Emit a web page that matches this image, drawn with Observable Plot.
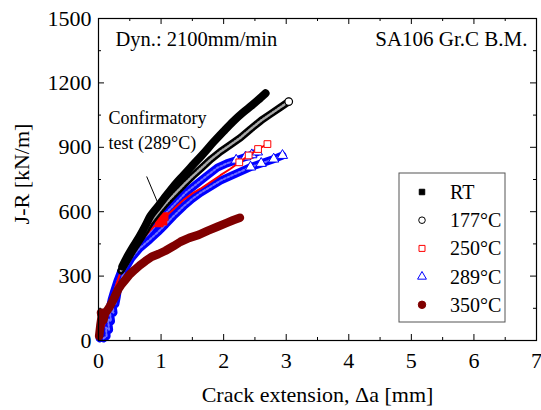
<!DOCTYPE html>
<html><head><meta charset="utf-8">
<script src="https://cdn.jsdelivr.net/npm/d3@7"></script>
<script src="https://cdn.jsdelivr.net/npm/@observablehq/plot@0.6"></script>
<style>body{margin:0;background:#fff} svg{display:block}</style>
</head><body><div id="chart"></div>
<script>
// ---- data (Δa [mm], J-R [kN/m]) ----
const rtPts = [[0.38,345],[0.45,385],[0.55,435],[0.65,482],[0.75,535],[0.83,580],[0.95,625],[1.05,663],[1.15,700],[1.25,735],[1.36,770],[1.5,815],[1.65,862],[1.84,925],[2.0,975],[2.15,1020],[2.3,1060],[2.45,1095],[2.55,1120],[2.67,1152]];
const c177Pts = [[0.36,325],[0.45,370],[0.55,420],[0.65,465],[0.75,510],[0.83,550],[0.95,595],[1.05,630],[1.15,662],[1.25,692],[1.36,725],[1.5,765],[1.65,805],[1.8,845],[1.95,880],[2.1,910],[2.27,945],[2.43,985],[2.6,1025],[2.75,1055],[2.9,1085],[3.04,1113]];
const c250Pts = [[0.05,40],[0.15,120],[0.25,230],[0.33,300],[0.42,355],[0.5,395],[0.6,435],[0.7,470],[0.8,505],[0.9,535],[0.97,545],[1.0,575],[1.03,555],[1.05,580],[1.02,565],[1.1,585],[1.25,625],[1.36,655],[1.5,685],[1.63,707],[1.8,740],[1.95,770],[2.11,800],[2.25,830],[2.4,862],[2.55,892],[2.7,915]];
const c250Blob = [[0.97,548],[1.0,572],[1.03,556],[1.05,578],[1.02,564],[0.99,558]];
const c289aPts = [[0.02,10],[0.06,35],[0.1,70],[0.14,110],[0.18,150],[0.21,190],[0.25,230],[0.3,275],[0.36,320],[0.43,360],[0.53,400],[0.66,445],[0.8,495],[0.95,550],[1.1,600],[1.25,645],[1.4,690],[1.55,725],[1.7,760],[1.9,805],[2.05,825],[2.2,840],[2.35,855],[2.45,865],[2.54,878]];
const c289bPts = [[0.08,10],[0.13,20],[0.12,60],[0.17,50],[0.15,100],[0.2,90],[0.18,140],[0.24,130],[0.22,180],[0.27,170],[0.29,200],[0.31,240],[0.34,264],[0.42,330],[0.53,385],[0.66,430],[0.82,470],[0.95,505],[1.07,540],[1.2,580],[1.36,625],[1.5,660],[1.63,688],[1.8,718],[1.95,745],[2.1,765],[2.27,787],[2.43,808],[2.6,825],[2.8,845],[2.94,862]];
const c350Pts = [[0.01,20],[0.03,70],[0.05,110],[0.04,130],[0.08,95],[0.1,125],[0.14,140],[0.18,158],[0.23,185],[0.27,210],[0.32,240],[0.37,262],[0.43,283],[0.5,308],[0.58,330],[0.66,350],[0.75,370],[0.85,390],[0.96,403],[1.07,418],[1.2,440],[1.31,460],[1.45,478],[1.6,492],[1.75,512],[1.9,530],[2.05,548],[2.15,560],[2.26,572]];

const xMajor = [0,1,2,3,4,5,6,7];
const xMinor = [0.5,1.5,2.5,3.5,4.5,5.5,6.5];
const yMajor = [0,300,600,900,1200,1500];
const yMinor = [150,450,750,1050,1350];

const legendLabels = ["RT","177°C","250°C","289°C","350°C"];
const legendSymbols = ["square","circle","square","triangle","circle"];
const legendColors = ["#000000","#000000","#ff0000","#0000ff","#800000"];
const legendFilled = [true,false,false,false,true];

const noteText = ["Confirmatory","test (289°C)"];
const notePointer = [{x1:0.77,y1:764,x2:0.99,y2:612}];
const topLeftText = "Dyn.: 2100mm/min";
const topRightText = "SA106 Gr.C B.M.";
const xLabel = "Crack extension, Δa [mm]";
const yLabel = "J-R [kN/m]";

// ---- layout ----
const W = 541, H = 410, mL = 98, mR = 5, mT = 18, mB = 70;
const innerH = H - mT - mB, innerW = W - mL - mR;
const FONT = "'Liberation Serif', 'Times New Roman', serif";
const X = d => d[0], Y = d => d[1];

const blueBand = pts => [
  Plot.line(pts, {x: X, y: Y, stroke: "#0000ff", strokeWidth: 8, strokeLinejoin: "round", strokeLinecap: "round"}),
  Plot.line(pts, {x: X, y: Y, stroke: "#6f6fff", strokeWidth: 2, strokeDasharray: "2,2"}),
  Plot.dot(pts.slice(-4), {x: X, y: Y, symbol: "triangle", r: 3.8, stroke: "#0000ff", fill: "white", strokeWidth: 1})
];

const marks = [
  ...blueBand(c289aPts),
  ...blueBand(c289bPts),
  Plot.line(c250Pts, {x: X, y: Y, stroke: "#ff0000", strokeWidth: 2, strokeLinejoin: "round"}),
  Plot.dot(c250Blob, {x: X, y: Y, symbol: "square", r: 4, fill: "#ff0000", stroke: "#ff0000"}),
  Plot.dot(c250Pts.slice(-4), {x: X, y: Y, symbol: "square", r: 3.8, stroke: "#ff0000", fill: "white", strokeWidth: 1}),
  Plot.line(c177Pts, {x: X, y: Y, stroke: "#000", strokeWidth: 7.5, strokeLinejoin: "round", strokeLinecap: "round"}),
  Plot.line(c177Pts, {x: X, y: Y, stroke: "#a8a8a8", strokeWidth: 2.5, strokeDasharray: "1.5,1.5"}),
  Plot.dot(c177Pts.slice(-1), {x: X, y: Y, symbol: "circle", r: 3.8, stroke: "#000", fill: "white", strokeWidth: 1.2}),
  Plot.line(rtPts, {x: X, y: Y, stroke: "#000", strokeWidth: 8, strokeLinejoin: "round", curve: "catmull-rom"}),
  Plot.line(c350Pts, {x: X, y: Y, stroke: "#800000", strokeWidth: 8.5, strokeLinejoin: "round", strokeLinecap: "round"}),
  // annotation pointer
  Plot.link(notePointer, {x1: "x1", y1: "y1", x2: "x2", y2: "y2", stroke: "#000", strokeWidth: 1}),
  // frame & ticks (inward)
  Plot.frame({stroke: "#000", strokeWidth: 1.2}),
  Plot.tickX(xMajor, {x: d => d, insetTop: innerH - 6, stroke: "#000"}),
  Plot.tickX(xMajor, {x: d => d, insetBottom: innerH - 6, stroke: "#000"}),
  Plot.tickX(xMinor, {x: d => d, insetTop: innerH - 3, stroke: "#000"}),
  Plot.tickX(xMinor, {x: d => d, insetBottom: innerH - 3, stroke: "#000"}),
  Plot.tickY(yMajor, {y: d => d, insetRight: innerW - 6, stroke: "#000"}),
  Plot.tickY(yMajor, {y: d => d, insetLeft: innerW - 6, stroke: "#000"}),
  Plot.tickY(yMinor, {y: d => d, insetRight: innerW - 3, stroke: "#000"}),
  Plot.tickY(yMinor, {y: d => d, insetLeft: innerW - 3, stroke: "#000"}),
  // tick labels
  Plot.axisX({ticks: xMajor, tickSize: 0, tickPadding: 12, label: null, fontSize: 22, tickFormat: d => String(d)}),
  Plot.axisY({ticks: yMajor, tickSize: 0, tickPadding: 7, label: null, fontSize: 22, tickFormat: d => String(d)}),
  // texts
  Plot.text([xLabel], {text: d => d, frameAnchor: "bottom", textAnchor: "middle", lineAnchor: "bottom", dy: 61, fontSize: 22}),
  Plot.text([topLeftText], {text: d => d, frameAnchor: "top-left", textAnchor: "start", lineAnchor: "bottom", dx: 17, dy: 27, fontSize: 20.5}),
  Plot.text([topRightText], {text: d => d, frameAnchor: "top-right", textAnchor: "end", lineAnchor: "bottom", dx: -9, dy: 27, fontSize: 21}),
  Plot.text([noteText[0]], {text: d => d, frameAnchor: "top-left", textAnchor: "start", lineAnchor: "bottom", dx: 10, dy: 105, fontSize: 18}),
  Plot.text([noteText[1]], {text: d => d, frameAnchor: "top-left", textAnchor: "start", lineAnchor: "bottom", dx: 10, dy: 130, fontSize: 18})
];

const svg = Plot.plot({
  width: W, height: H,
  marginLeft: mL, marginRight: mR, marginTop: mT, marginBottom: mB,
  x: {domain: [0, 7]},
  y: {domain: [0, 1500]},
  style: {fontFamily: FONT, color: "#000", background: "#fff"},
  marks
});

// y-axis title (rotated)
d3.select(svg).append("text")
  .attr("transform", "translate(29,174) rotate(-90)")
  .attr("text-anchor", "middle")
  .attr("font-family", FONT).attr("font-size", 22)
  .attr("fill", "#000")
  .text(yLabel);

// legend (inside the plot frame)
const lg = d3.select(svg).append("g").attr("font-family", FONT).attr("font-size", 20).attr("text-anchor", "start");
lg.append("rect").attr("x", 399).attr("y", 173).attr("width", 106).attr("height", 149)
  .attr("fill", "#fff").attr("stroke", "#555").attr("stroke-width", 1);
const symMap = {square: d3.symbolSquare, circle: d3.symbolCircle, triangle: d3.symbolTriangle};
const symSize = {square: 36, circle: 34, triangle: 34};
legendLabels.forEach((lab, i) => {
  const cy = 192 + i * 28.2;
  const s = legendSymbols[i];
  const sz = (s === "square" && legendFilled[i]) ? 30 : (s === "circle" && legendFilled[i] ? 44 : symSize[s]);
  lg.append("path").attr("transform", `translate(422,${cy})`)
    .attr("d", d3.symbol(symMap[s], sz)())
    .attr("fill", legendFilled[i] ? legendColors[i] : "none")
    .attr("stroke", legendColors[i]).attr("stroke-width", 1);
  lg.append("text").attr("x", 450).attr("y", cy + 7).attr("text-anchor", "start").text(lab);
});

document.getElementById("chart").appendChild(svg);
</script>
</body></html>
